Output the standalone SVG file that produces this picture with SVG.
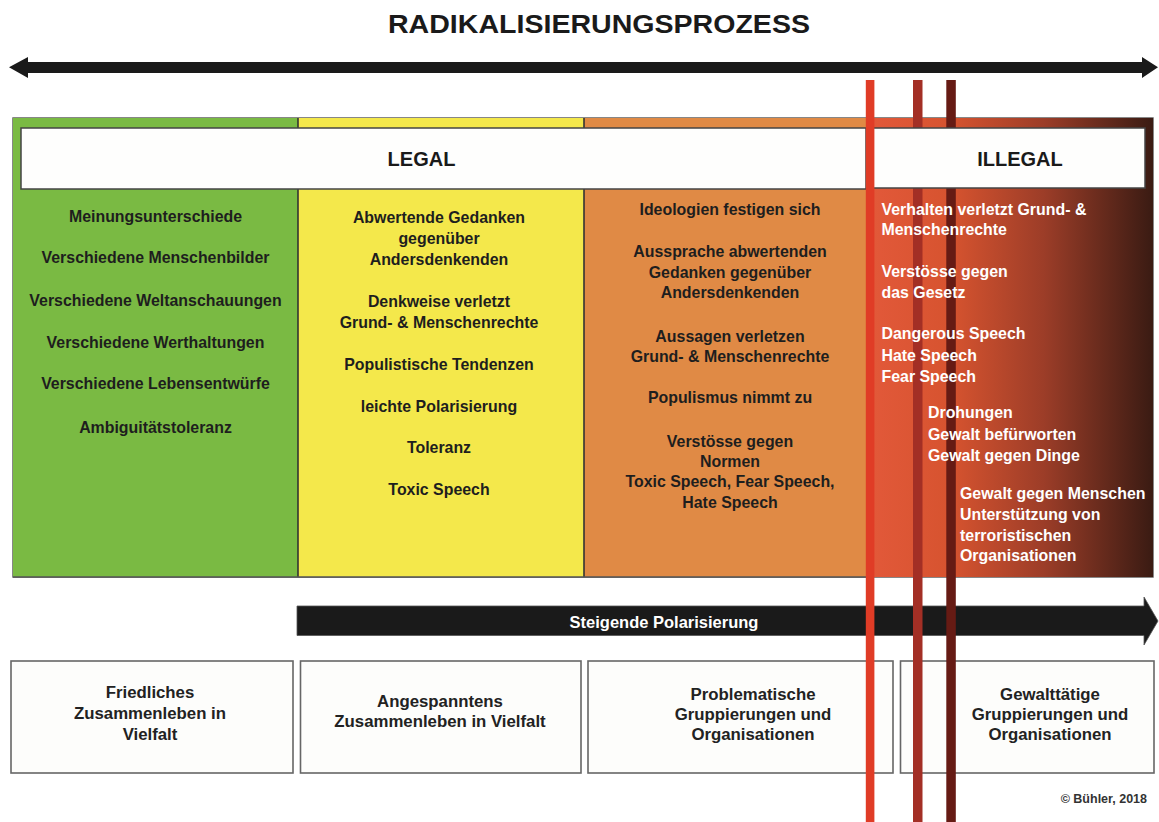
<svg xmlns="http://www.w3.org/2000/svg" width="1159" height="822" viewBox="0 0 1159 822">
  <defs>
    <linearGradient id="illegalGrad" x1="866" y1="0" x2="1153" y2="0" gradientUnits="userSpaceOnUse">
      <stop offset="0" stop-color="#e3593a"/>
      <stop offset="0.3" stop-color="#d6532f"/>
      <stop offset="0.62" stop-color="#9c3d28"/>
      <stop offset="1" stop-color="#3a1b13"/>
    </linearGradient>
    <style>
      text { font-family: "Liberation Sans", Arial, sans-serif; font-weight: bold; }
      .col { font-size: 15.9px; fill: #1e1e1e; text-anchor: middle; }
      .ill { font-size: 15.9px; fill: #ffffff; }
      .box { fill: #fdfdfb; stroke: #666666; stroke-width: 1.6; }
      .boxt { font-size: 16.8px; fill: #222222; text-anchor: middle; }
      .hdr { fill: #fefefd; stroke: #444444; stroke-width: 1.5; }
      .hdrt { font-size: 20px; fill: #1a1a1a; text-anchor: middle; }
    </style>
  </defs>
  <rect x="0" y="0" width="1159" height="822" fill="#ffffff"/>

  <g id="title">
    <text x="599" y="33" font-size="26" fill="#1a1a1a" text-anchor="middle" textLength="422" lengthAdjust="spacingAndGlyphs">RADIKALISIERUNGSPROZESS</text>
  </g>

  <g id="connectors">
    <polygon id="process-arrow" fill="#1a1a1a" points="9,67.2 28,57 28,62 1142,62 1142,57 1158,67.2 1142,78 1142,73 28,73 28,78"/>
    <g id="polarisation-arrow">
      <polygon fill="#1a1a1a" stroke="#555" stroke-width="0.8" points="297,606 1144,606 1144,597 1158,621 1144,645 1144,635.5 297,635.5"/>
      <text x="664" y="627.5" font-size="16.5" fill="#ffffff" text-anchor="middle">Steigende Polarisierung</text>
    </g>
  </g>

  <g id="box-friedlich">
    <rect class="box" x="11" y="661" width="282" height="112"/>
    <text class="boxt" x="150" y="697.5">Friedliches</text>
    <text class="boxt" x="150" y="718.5">Zusammenleben in</text>
    <text class="boxt" x="150" y="739.5">Vielfalt</text>
  </g>
  <g id="box-angespannt">
    <rect class="box" x="300.5" y="661" width="280.5" height="112"/>
    <text class="boxt" x="440" y="707">Angespanntens</text>
    <text class="boxt" x="440" y="727">Zusammenleben in Vielfalt</text>
  </g>
  <g id="box-problematisch">
    <rect class="box" x="588" y="661" width="305" height="112"/>
    <text class="boxt" x="753" y="700">Problematische</text>
    <text class="boxt" x="753" y="720">Gruppierungen und</text>
    <text class="boxt" x="753" y="740">Organisationen</text>
  </g>
  <g id="box-gewalttaetig">
    <rect class="box" x="900.5" y="661" width="253.5" height="112"/>
    <text class="boxt" x="1050" y="700">Gewalttätige</text>
    <text class="boxt" x="1050" y="720">Gruppierungen und</text>
    <text class="boxt" x="1050" y="740">Organisationen</text>
  </g>

  <g id="frame">
    <rect x="13" y="118" width="1140" height="459" fill="none" stroke="#555555" stroke-width="1.4"/>
  </g>

  <g id="col-green">
    <rect x="13" y="118" width="285" height="459" fill="#7aba43"/>
    <text class="col" x="155.5" y="221.5">Meinungsunterschiede</text>
    <text class="col" x="155.5" y="263">Verschiedene Menschenbilder</text>
    <text class="col" x="155.5" y="305.5">Verschiedene Weltanschauungen</text>
    <text class="col" x="155.5" y="347.5">Verschiedene Werthaltungen</text>
    <text class="col" x="155.5" y="389">Verschiedene Lebensentwürfe</text>
    <text class="col" x="155.5" y="432.5">Ambiguitätstoleranz</text>
  </g>

  <g id="col-yellow">
    <rect x="298" y="118" width="286" height="459" fill="#f4e84b"/>
    <text class="col" x="439" y="223">Abwertende Gedanken</text>
    <text class="col" x="439" y="244">gegenüber</text>
    <text class="col" x="439" y="265">Andersdenkenden</text>
    <text class="col" x="439" y="306.5">Denkweise verletzt</text>
    <text class="col" x="439" y="328">Grund- &amp; Menschenrechte</text>
    <text class="col" x="439" y="370">Populistische Tendenzen</text>
    <text class="col" x="439" y="411.5">leichte Polarisierung</text>
    <text class="col" x="439" y="453">Toleranz</text>
    <text class="col" x="439" y="495">Toxic Speech</text>
  </g>

  <g id="col-orange">
    <rect x="584" y="118" width="282" height="459" fill="#e08a45"/>
    <text class="col" x="730" y="215">Ideologien festigen sich</text>
    <text class="col" x="730" y="256.5">Aussprache abwertenden</text>
    <text class="col" x="730" y="277.5">Gedanken gegenüber</text>
    <text class="col" x="730" y="298">Andersdenkenden</text>
    <text class="col" x="730" y="341.5">Aussagen verletzen</text>
    <text class="col" x="730" y="361.5">Grund- &amp; Menschenrechte</text>
    <text class="col" x="730" y="403">Populismus nimmt zu</text>
    <text class="col" x="730" y="446.5">Verstösse gegen</text>
    <text class="col" x="730" y="466.5">Normen</text>
    <text class="col" x="730" y="486.5">Toxic Speech, Fear Speech,</text>
    <text class="col" x="730" y="508">Hate Speech</text>
  </g>

  <g id="col-illegal-bg">
    <rect x="866" y="118" width="287" height="459" fill="url(#illegalGrad)"/>
  </g>

  <g id="dividers" stroke="#333333" stroke-width="1.6">
    <line x1="298" y1="118" x2="298" y2="577"/>
    <line x1="584" y1="118" x2="584" y2="577"/>
    <line x1="13" y1="577" x2="866" y2="577" stroke="#555" stroke-width="1.4"/>
  </g>

  <g id="thresholds-back">
    <rect x="913" y="80" width="9.5" height="742" fill="#a32f25"/>
    <rect x="946.3" y="80" width="9.5" height="742" fill="#661b14"/>
  </g>

  <g id="header-legal">
    <rect class="hdr" x="21" y="128" width="845" height="61"/>
    <text class="hdrt" x="421.5" y="166">LEGAL</text>
  </g>
  <g id="header-illegal">
    <rect class="hdr" x="869" y="128" width="276" height="60"/>
    <text class="hdrt" x="1020" y="166">ILLEGAL</text>
  </g>

  <g id="threshold-front">
    <rect x="865.8" y="80" width="8.6" height="742" fill="#e03c26"/>
  </g>

  <g id="col-illegal">
    <text class="ill" x="881.5" y="214.5">Verhalten verletzt Grund- &amp;</text>
    <text class="ill" x="881.5" y="234.5">Menschenrechte</text>
    <text class="ill" x="881.5" y="277">Verstösse gegen</text>
    <text class="ill" x="881.5" y="297.5">das Gesetz</text>
    <text class="ill" x="881.5" y="339">Dangerous Speech</text>
    <text class="ill" x="881.5" y="360.5">Hate Speech</text>
    <text class="ill" x="881.5" y="381.5">Fear Speech</text>
    <text class="ill" x="928" y="418">Drohungen</text>
    <text class="ill" x="928" y="439.5">Gewalt befürworten</text>
    <text class="ill" x="928" y="461">Gewalt gegen Dinge</text>
    <text class="ill" x="960" y="499">Gewalt gegen Menschen</text>
    <text class="ill" x="960" y="520">Unterstützung von</text>
    <text class="ill" x="960" y="540.5">terroristischen</text>
    <text class="ill" x="960" y="561">Organisationen</text>
  </g>

  <g id="copyright">
    <text x="1147" y="803" font-size="12.5" fill="#333333" text-anchor="end">© Bühler, 2018</text>
  </g>
</svg>
